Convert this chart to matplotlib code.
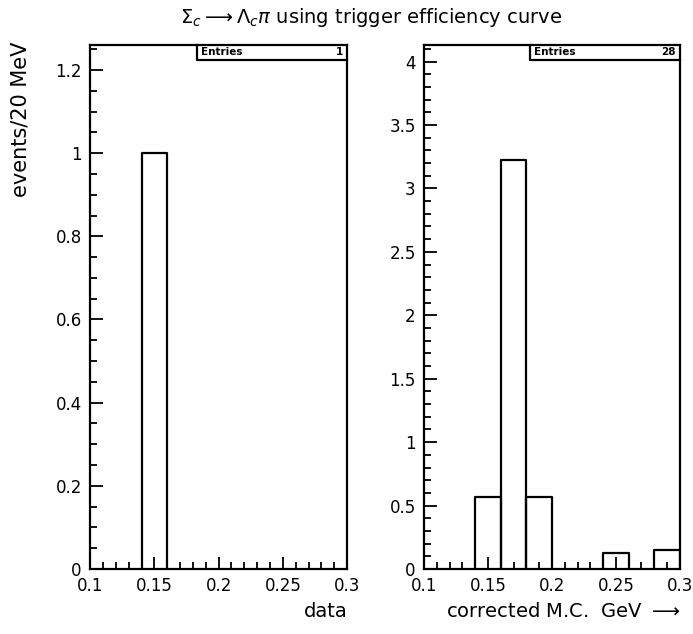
import numpy as np
import matplotlib.pyplot as plt
from matplotlib.ticker import MultipleLocator

# Histogram contents (20 MeV bins between 0.1 and 0.3 GeV)
edges = [0.10, 0.12, 0.14, 0.16, 0.18, 0.20, 0.22, 0.24, 0.26, 0.28, 0.30]
data_counts = [0, 0, 1.0, 0, 0, 0, 0, 0, 0, 0]
mc_counts = [0, 0, 0.57, 3.22, 0.57, 0, 0, 0.13, 0, 0.15]
data_entries = 1
mc_entries = 28

title = r'$\Sigma_c \longrightarrow \Lambda_c\pi$ using trigger efficiency curve'

plt.rcParams.update({
    'font.family': 'DejaVu Sans',
    'font.size': 12,
    'axes.linewidth': 1.6,
})

fig = plt.figure(figsize=(6.93, 6.34), dpi=100)
ax1 = fig.add_axes([0.130, 0.1025, 0.371, 0.8265])
ax2 = fig.add_axes([0.612, 0.1025, 0.369, 0.8265])


def draw_hist(ax, counts, ymax, ymajor, yminor, entries):
    vals = np.array(counts)
    # draw each non-empty bin as an outlined box like PAW does
    for i, v in enumerate(vals):
        if v > 0:
            x0, x1 = edges[i], edges[i + 1]
            ax.plot([x0, x0, x1, x1], [0, v, v, 0], color='black', lw=1.6)
    ax.set_xlim(0.1, 0.3)
    ax.set_ylim(0, ymax)
    ax.xaxis.set_major_locator(MultipleLocator(0.05))
    ax.xaxis.set_minor_locator(MultipleLocator(0.01))
    ax.yaxis.set_major_locator(MultipleLocator(ymajor))
    ax.yaxis.set_minor_locator(MultipleLocator(yminor))
    ax.tick_params(which='both', direction='in', width=1.3)
    ax.tick_params(which='major', length=9, labelsize=12, pad=6)
    ax.tick_params(which='minor', length=5)
    ax.xaxis.set_major_formatter(plt.FuncFormatter(lambda v, p: f'{v:g}'))
    ax.yaxis.set_major_formatter(plt.FuncFormatter(lambda v, p: f'{v:g}'))
    # statistics box
    ax.text(0.43, 0.986, 'Entries', transform=ax.transAxes, fontsize=7.5,
            fontweight='bold', ha='left', va='center')
    ax.text(0.985, 0.986, f'{entries}', transform=ax.transAxes, fontsize=7.5,
            fontweight='bold', ha='right', va='center')
    ax.plot([0.415, 0.415, 1.0], [1.0, 0.972, 0.972], transform=ax.transAxes,
            color='black', lw=1.6, clip_on=False)


draw_hist(ax1, data_counts, 1.26, 0.2, 0.05, data_entries)
draw_hist(ax2, mc_counts, 4.13, 0.5, 0.1, mc_entries)

fig.text(0.535, 0.972, title, ha='center', va='center', fontsize=14)
fig.text(0.03, 0.935, 'events/20 MeV', rotation=90, ha='center', va='top',
         fontsize=15)
fig.text(0.501, 0.02, 'data', ha='right', va='bottom', fontsize=14)
fig.text(0.981, 0.02, r'corrected M.C.  GeV $\longrightarrow$', ha='right',
         va='bottom', fontsize=14)

fig.savefig('out.png', dpi=100)
